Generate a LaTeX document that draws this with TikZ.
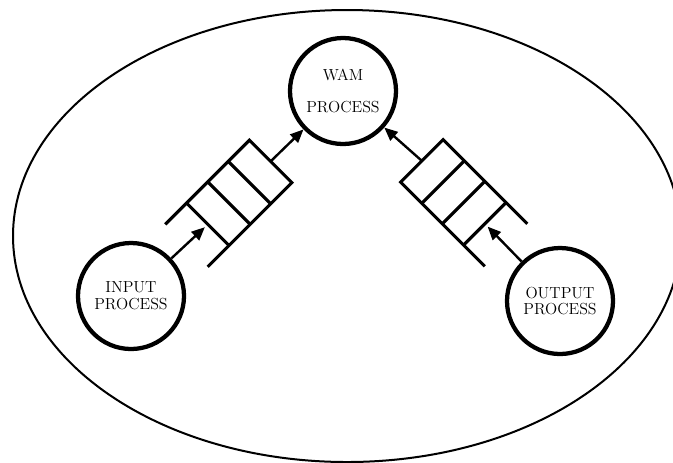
\documentclass[tikz,border=0pt]{standalone}
\usetikzlibrary{arrows.meta}
\begin{document}
\begin{tikzpicture}[x=0.75pt,y=-0.75pt,
  proc/.style={circle, draw, line width=3.2pt, minimum size=79.5pt, inner sep=0pt,
    align=center, font=\fontsize{12}{12.5}\selectfont},
  qline/.style={line width=2.3pt, line join=miter},
  flow/.style={line width=1.8pt, -{Triangle[length=10pt,width=8.5pt]}},
  boundary/.style={line width=1.5pt}]
\clip (0,0) rectangle (673,462);
\draw[boundary] (347,236) ellipse [x radius=334, y radius=226];

\node[proc] (wam) at (343,91) {WAM\\[12pt]PROCESS};
\node[proc] (inp) at (131,296) {INPUT\\PROCESS};
\node[proc] (outp) at (560,301) {OUTPUT\\PROCESS};

% left queue
\begin{scope}[shift={(186.5,245.5)}, rotate=45]
  \draw[qline] (0,-30) -- (119,-30) -- (119,30) -- (0,30);
  \foreach \u in {30,60,89} \draw[qline] (\u,-30) -- (\u,30);
  \coordinate (lqin) at (26,0);
  \coordinate (lqout) at (119,0);
\end{scope}

% right queue
\begin{scope}[shift={(506,245)}, rotate=135]
  \draw[qline] (0,-30) -- (119,-30) -- (119,30) -- (0,30);
  \foreach \u in {30,60,89} \draw[qline] (\u,-30) -- (\u,30);
  \coordinate (rqin) at (26,0);
  \coordinate (rqout) at (119,0);
\end{scope}

\draw[flow] (inp) -- (lqin);
\draw[flow] (lqout) -- (wam);
\draw[flow] (outp) -- (rqin);
\draw[flow] (rqout) -- (wam);
\end{tikzpicture}
\end{document}
